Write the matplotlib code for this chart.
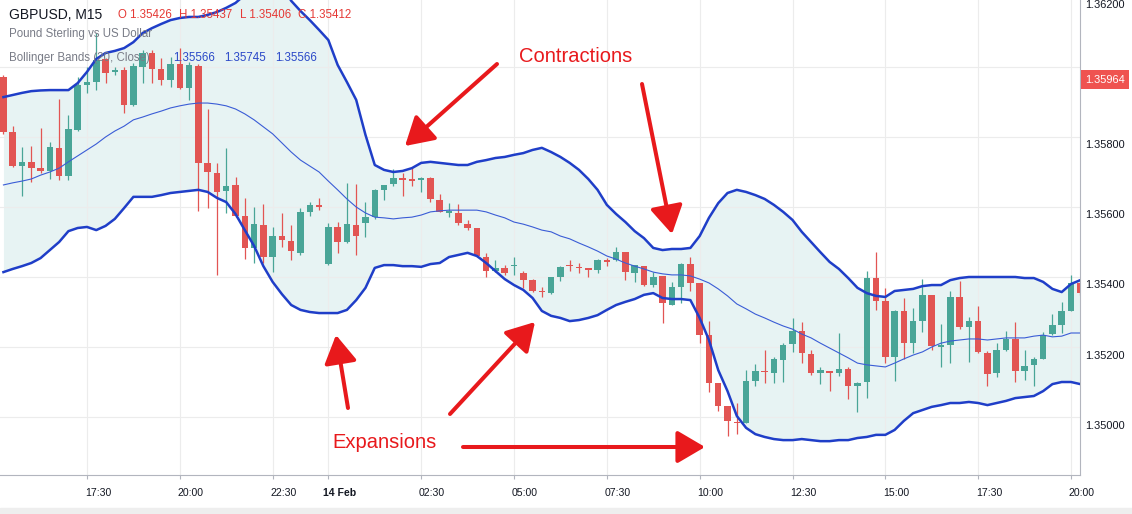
import numpy as np
import pandas as pd
import matplotlib
matplotlib.use('Agg')
import matplotlib.pyplot as plt
import matplotlib.transforms as mtransforms

plt.rcParams['font.family'] = ['Liberation Sans', 'DejaVu Sans']

# GBPUSD M15 candles, 13 Feb 15:15 -> 14 Feb 20:15
opens = [1.35971, 1.35814, 1.35717, 1.35729, 1.35711, 1.35703, 1.35769, 1.35689, 1.35820, 1.35949,
         1.35957, 1.36023, 1.35986, 1.35991, 1.35891, 1.36000, 1.36040, 1.35994, 1.35963, 1.36009,
         1.35940, 1.36003, 1.35726, 1.35697, 1.35646, 1.35663, 1.35574, 1.35483, 1.35549, 1.35457,
         1.35517, 1.35503, 1.35469, 1.35586, 1.35606, 1.35437, 1.35543, 1.35500, 1.35549, 1.35554,
         1.35571, 1.35649, 1.35666, 1.35683, 1.35680, 1.35677, 1.35683, 1.35620, 1.35583, 1.35583,
         1.35551, 1.35540, 1.35457, 1.35417, 1.35426, 1.35431, 1.35411, 1.35391, 1.35360, 1.35354,
         1.35400, 1.35434, 1.35429, 1.35426, 1.35420, 1.35449, 1.35449, 1.35471, 1.35411, 1.35431,
         1.35377, 1.35403, 1.35320, 1.35371, 1.35437, 1.35383, 1.35234, 1.35097, 1.35031, 1.34986,
         1.34983, 1.35103, 1.35131, 1.35126, 1.35163, 1.35209, 1.35246, 1.35180, 1.35126, 1.35131,
         1.35126, 1.35137, 1.35089, 1.35100, 1.35397, 1.35331, 1.35171, 1.35303, 1.35211, 1.35274,
         1.35349, 1.35200, 1.35206, 1.35343, 1.35257, 1.35274, 1.35183, 1.35126, 1.35191, 1.35223,
         1.35131, 1.35149, 1.35166, 1.35237, 1.35263, 1.35303, 1.35383]
highs = [1.35977, 1.35831, 1.35771, 1.35774, 1.35826, 1.35786, 1.35909, 1.35863, 1.35971, 1.36000,
         1.36097, 1.36026, 1.36000, 1.36000, 1.36011, 1.36049, 1.36049, 1.36026, 1.36029, 1.36054,
         1.36014, 1.36009, 1.35880, 1.35726, 1.35769, 1.35686, 1.35626, 1.35600, 1.35609, 1.35543,
         1.35583, 1.35549, 1.35597, 1.35614, 1.35626, 1.35554, 1.35557, 1.35669, 1.35666, 1.35614,
         1.35651, 1.35663, 1.35709, 1.35697, 1.35714, 1.35686, 1.35686, 1.35637, 1.35611, 1.35609,
         1.35563, 1.35540, 1.35469, 1.35449, 1.35434, 1.35457, 1.35417, 1.35394, 1.35371, 1.35400,
         1.35431, 1.35449, 1.35440, 1.35426, 1.35451, 1.35454, 1.35486, 1.35471, 1.35434, 1.35431,
         1.35414, 1.35403, 1.35386, 1.35440, 1.35457, 1.35383, 1.35274, 1.35097, 1.35031, 1.35040,
         1.35134, 1.35151, 1.35191, 1.35171, 1.35211, 1.35283, 1.35271, 1.35191, 1.35143, 1.35131,
         1.35240, 1.35143, 1.35100, 1.35417, 1.35471, 1.35369, 1.35306, 1.35340, 1.35311, 1.35394,
         1.35349, 1.35266, 1.35360, 1.35389, 1.35286, 1.35317, 1.35189, 1.35211, 1.35246, 1.35271,
         1.35191, 1.35171, 1.35243, 1.35294, 1.35329, 1.35406, 1.35389]
lows = [1.35809, 1.35714, 1.35631, 1.35671, 1.35697, 1.35680, 1.35677, 1.35677, 1.35817, 1.35926,
        1.35934, 1.35954, 1.35977, 1.35869, 1.35889, 1.35954, 1.35954, 1.35949, 1.35943, 1.35937,
        1.35906, 1.35589, 1.35597, 1.35406, 1.35583, 1.35571, 1.35451, 1.35440, 1.35440, 1.35414,
        1.35486, 1.35449, 1.35463, 1.35574, 1.35591, 1.35434, 1.35469, 1.35497, 1.35463, 1.35514,
        1.35566, 1.35620, 1.35660, 1.35631, 1.35660, 1.35643, 1.35614, 1.35586, 1.35571, 1.35549,
        1.35534, 1.35457, 1.35400, 1.35414, 1.35406, 1.35406, 1.35369, 1.35357, 1.35343, 1.35351,
        1.35389, 1.35417, 1.35411, 1.35400, 1.35411, 1.35431, 1.35446, 1.35391, 1.35386, 1.35374,
        1.35371, 1.35269, 1.35320, 1.35326, 1.35360, 1.35211, 1.35071, 1.35017, 1.34946, 1.34951,
        1.34983, 1.35089, 1.35097, 1.35097, 1.35100, 1.35186, 1.35154, 1.35120, 1.35094, 1.35074,
        1.35117, 1.35051, 1.35014, 1.35054, 1.35306, 1.35154, 1.35103, 1.35166, 1.35183, 1.35243,
        1.35191, 1.35143, 1.35154, 1.35251, 1.35157, 1.35183, 1.35089, 1.35114, 1.35189, 1.35100,
        1.35106, 1.35089, 1.35166, 1.35234, 1.35240, 1.35303, 1.35349]
closes = [1.35814, 1.35717, 1.35729, 1.35711, 1.35703, 1.35771, 1.35689, 1.35823, 1.35949, 1.35957,
          1.36020, 1.35983, 1.35991, 1.35891, 1.36003, 1.36040, 1.35994, 1.35963, 1.36009, 1.35940,
          1.36006, 1.35726, 1.35700, 1.35643, 1.35660, 1.35574, 1.35483, 1.35551, 1.35457, 1.35517,
          1.35506, 1.35474, 1.35586, 1.35606, 1.35600, 1.35543, 1.35500, 1.35551, 1.35517, 1.35571,
          1.35649, 1.35663, 1.35683, 1.35677, 1.35674, 1.35683, 1.35623, 1.35586, 1.35589, 1.35554,
          1.35540, 1.35460, 1.35417, 1.35426, 1.35411, 1.35434, 1.35391, 1.35360, 1.35357, 1.35400,
          1.35429, 1.35431, 1.35426, 1.35420, 1.35449, 1.35443, 1.35471, 1.35414, 1.35434, 1.35377,
          1.35400, 1.35326, 1.35371, 1.35437, 1.35383, 1.35234, 1.35097, 1.35031, 1.34989, 1.34983,
          1.35103, 1.35131, 1.35129, 1.35166, 1.35206, 1.35246, 1.35183, 1.35126, 1.35134, 1.35126,
          1.35137, 1.35089, 1.35097, 1.35397, 1.35331, 1.35171, 1.35303, 1.35211, 1.35274, 1.35349,
          1.35203, 1.35206, 1.35343, 1.35257, 1.35274, 1.35186, 1.35123, 1.35191, 1.35223, 1.35131,
          1.35146, 1.35166, 1.35234, 1.35263, 1.35303, 1.35383, 1.35354]

# Bollinger Bands (20, Close)
bb_upper = [1.35914, 1.35920, 1.35926, 1.35931, 1.35933, 1.35934, 1.35934, 1.35934, 1.35954, 1.35986,
            1.36023, 1.36040, 1.36046, 1.36054, 1.36071, 1.36097, 1.36111, 1.36123, 1.36134, 1.36140,
            1.36143, 1.36143, 1.36149, 1.36157, 1.36169, 1.36183, 1.36206, 1.36226, 1.36237, 1.36243,
            1.36234, 1.36189, 1.36160, 1.36134, 1.36106, 1.36077, 1.36006, 1.35957, 1.35906, 1.35806,
            1.35720, 1.35706, 1.35700, 1.35703, 1.35711, 1.35726, 1.35729, 1.35726, 1.35723, 1.35720,
            1.35720, 1.35729, 1.35734, 1.35740, 1.35743, 1.35749, 1.35754, 1.35763, 1.35769, 1.35757,
            1.35743, 1.35726, 1.35706, 1.35680, 1.35649, 1.35606, 1.35580, 1.35557, 1.35531, 1.35511,
            1.35483, 1.35477, 1.35480, 1.35480, 1.35483, 1.35517, 1.35569, 1.35611, 1.35640, 1.35649,
            1.35643, 1.35634, 1.35623, 1.35606, 1.35586, 1.35563, 1.35529, 1.35500, 1.35471, 1.35443,
            1.35423, 1.35397, 1.35369, 1.35354, 1.35346, 1.35343, 1.35360, 1.35363, 1.35366, 1.35374,
            1.35377, 1.35377, 1.35391, 1.35397, 1.35400, 1.35400, 1.35400, 1.35400, 1.35400, 1.35400,
            1.35397, 1.35397, 1.35386, 1.35366, 1.35357, 1.35380, 1.35391]
bb_middle = [1.35663, 1.35669, 1.35674, 1.35680, 1.35691, 1.35700, 1.35711, 1.35729, 1.35746, 1.35763,
             1.35780, 1.35800, 1.35817, 1.35831, 1.35849, 1.35857, 1.35866, 1.35874, 1.35883, 1.35889,
             1.35894, 1.35897, 1.35897, 1.35894, 1.35889, 1.35880, 1.35866, 1.35849, 1.35829, 1.35809,
             1.35783, 1.35757, 1.35734, 1.35717, 1.35700, 1.35674, 1.35649, 1.35623, 1.35600, 1.35583,
             1.35571, 1.35569, 1.35566, 1.35569, 1.35571, 1.35577, 1.35586, 1.35589, 1.35591, 1.35591,
             1.35591, 1.35591, 1.35586, 1.35577, 1.35569, 1.35557, 1.35551, 1.35543, 1.35534, 1.35529,
             1.35517, 1.35509, 1.35497, 1.35486, 1.35474, 1.35460, 1.35451, 1.35440, 1.35431, 1.35423,
             1.35414, 1.35409, 1.35406, 1.35406, 1.35403, 1.35394, 1.35383, 1.35366, 1.35346, 1.35323,
             1.35309, 1.35294, 1.35283, 1.35271, 1.35260, 1.35251, 1.35237, 1.35226, 1.35211, 1.35197,
             1.35183, 1.35169, 1.35154, 1.35149, 1.35146, 1.35143, 1.35154, 1.35166, 1.35177, 1.35186,
             1.35200, 1.35211, 1.35217, 1.35220, 1.35223, 1.35223, 1.35220, 1.35223, 1.35226, 1.35226,
             1.35226, 1.35231, 1.35234, 1.35229, 1.35231, 1.35240, 1.35240]
bb_lower = [1.35414, 1.35423, 1.35431, 1.35440, 1.35454, 1.35477, 1.35500, 1.35531, 1.35540, 1.35543,
            1.35534, 1.35546, 1.35566, 1.35597, 1.35629, 1.35629, 1.35629, 1.35634, 1.35640, 1.35643,
            1.35646, 1.35649, 1.35643, 1.35626, 1.35614, 1.35580, 1.35534, 1.35489, 1.35431, 1.35386,
            1.35351, 1.35320, 1.35306, 1.35300, 1.35297, 1.35297, 1.35297, 1.35306, 1.35334, 1.35369,
            1.35426, 1.35434, 1.35434, 1.35431, 1.35431, 1.35429, 1.35437, 1.35440, 1.35457, 1.35463,
            1.35469, 1.35460, 1.35440, 1.35417, 1.35394, 1.35377, 1.35363, 1.35340, 1.35303, 1.35289,
            1.35283, 1.35274, 1.35277, 1.35283, 1.35291, 1.35306, 1.35320, 1.35329, 1.35337, 1.35349,
            1.35354, 1.35340, 1.35337, 1.35337, 1.35334, 1.35283, 1.35220, 1.35134, 1.35074, 1.35003,
            1.34969, 1.34951, 1.34943, 1.34937, 1.34934, 1.34934, 1.34937, 1.34934, 1.34931, 1.34931,
            1.34934, 1.34934, 1.34940, 1.34943, 1.34949, 1.34949, 1.34963, 1.34989, 1.35011, 1.35020,
            1.35029, 1.35034, 1.35040, 1.35040, 1.35043, 1.35040, 1.35034, 1.35040, 1.35046, 1.35054,
            1.35057, 1.35060, 1.35074, 1.35094, 1.35100, 1.35100, 1.35094]

tick_times = ['2020-02-13 17:30', '2020-02-13 20:00', '2020-02-13 22:30', '2020-02-14 00:00',
              '2020-02-14 02:30', '2020-02-14 05:00', '2020-02-14 07:30', '2020-02-14 10:00',
              '2020-02-14 12:30', '2020-02-14 15:00', '2020-02-14 17:30', '2020-02-14 20:00']
tick_labels = ['17:30', '20:00', '22:30', '14 Feb', '02:30', '05:00', '07:30', '10:00',
               '12:30', '15:00', '17:30', '20:00']
price_ticks = [1.350, 1.352, 1.354, 1.356, 1.358, 1.360, 1.362]
last_price = 1.35964

W, H = 1132, 514
fig = plt.figure(figsize=(W / 100, H / 100), dpi=100)
ax = fig.add_axes([0, 39 / H, 1080 / W, 475 / H])

times = pd.date_range('2020-02-13 15:15', periods=len(opens), freq='15min')
idx = np.arange(len(times))
o = np.array(opens); c = np.array(closes)
up = c >= o
colors = np.where(up, '#49a597', '#e25553')

# band
ax.fill_between(idx, bb_lower, bb_upper, color='#e7f3f3', lw=0, zorder=0)

# candles
ax.vlines(idx, lows, highs, colors=colors, lw=0.9, zorder=2)
body = np.maximum(np.abs(c - o), 0.00003)
ax.bar(idx, body, bottom=np.minimum(o, c), width=0.7, color=colors, lw=0, zorder=2)

ax.plot(idx, bb_upper, color='#1f3ec8', lw=1.8, zorder=3)
ax.plot(idx, bb_lower, color='#1f3ec8', lw=1.8, zorder=3)
ax.plot(idx, bb_middle, color='#3a5cd6', lw=0.8, zorder=3)

tick_pos = times.get_indexer(pd.to_datetime(tick_times))
ax.set_xticks(tick_pos)
ax.set_yticks(price_ticks)
ax.grid(True, color='#ececec', lw=0.8, zorder=-1)
ax.set_axisbelow(True)
ax.tick_params(axis='x', length=3, color='#b2b5be', labelbottom=False)
ax.tick_params(axis='y', length=0, labelleft=False)
ax.set_xlim(-0.37, 115.97)
ax.set_ylim(1.348343, 1.361914)
for s in ['left', 'top']:
    ax.spines[s].set_visible(False)
for s in ['right', 'bottom']:
    ax.spines[s].set_color('#b2b5be')
    ax.spines[s].set_linewidth(0.8)

# axis labels (TradingView draws them slightly offset from the grid)
xoff = mtransforms.ScaledTranslation(0.11, 0, fig.dpi_scale_trans)
for p, lab in zip(tick_pos, tick_labels):
    ax.text(p, -18 / 475, lab, transform=ax.get_xaxis_transform() + xoff,
            ha='center', va='center', fontsize=7.6, color='#131722',
            fontweight='bold' if 'Feb' in lab else 'normal', clip_on=False)
yoff = mtransforms.ScaledTranslation(0, -0.085, fig.dpi_scale_trans)
for v in price_ticks:
    if abs(v - 1.360) < 1e-9:
        continue
    ax.text(1 + 5 / 1080, v, '%.5f' % v, transform=ax.get_yaxis_transform() + yoff,
            ha='left', va='center', fontsize=7.9, color='#131722', clip_on=False)
ax.text(1 + 5 / 1080, last_price, '%.5f' % last_price, transform=ax.get_yaxis_transform(),
        ha='left', va='center', fontsize=7.9, color='white', clip_on=False, zorder=10,
        bbox=dict(boxstyle='square,pad=0.4', fc='#ef5350', ec='none'))


def fp(x, y):
    return (x / W, 1 - y / H)


# header
fig.text(*fp(9, 15), 'GBPUSD, M15', fontsize=10, color='#131722', va='center')
for x, s in [(118, 'O 1.35426'), (179, 'H 1.35437'), (240, 'L 1.35406'), (298, 'C 1.35412')]:
    fig.text(*fp(x, 15), s, fontsize=8.3, color='#e53935', va='center')
fig.text(*fp(9, 34), 'Pound Sterling vs US Dollar', fontsize=8.3, color='#787b86', va='center')
fig.text(*fp(9, 58), 'Bollinger Bands (20, Close)', fontsize=8.3, color='#787b86', va='center')
for x, s in [(173, '1.35566'), (224, '1.35745'), (275, '1.35566')]:
    fig.text(*fp(x, 58), s, fontsize=8.3, color='#2a48c8', va='center')

# annotations
red = '#e8191c'
fig.text(*fp(576, 56), 'Contractions', fontsize=14.5, color=red, ha='center', va='center')
fig.text(*fp(385, 442), 'Expansions', fontsize=14.5, color=red, ha='center', va='center')
arrows = [((497, 64), (405, 146)), ((642, 84), (672, 234)), ((348, 408), (336, 335)),
          ((450, 414), (535, 322)), ((463, 447), (705, 447))]
for tail, tip in arrows:
    ax.annotate('', xy=fp(*tip), xytext=fp(*tail), xycoords='figure fraction',
                textcoords='figure fraction', annotation_clip=False,
                arrowprops=dict(arrowstyle='-|>,head_length=0.85,head_width=0.5',
                                mutation_scale=20, lw=2.9, color=red,
                                shrinkA=0, shrinkB=0))

fig.patches.append(plt.Rectangle((0, 0), 1, 6 / H, transform=fig.transFigure,
                                 color='#eeeeee', zorder=0))

fig.savefig('out.png', dpi=100)
